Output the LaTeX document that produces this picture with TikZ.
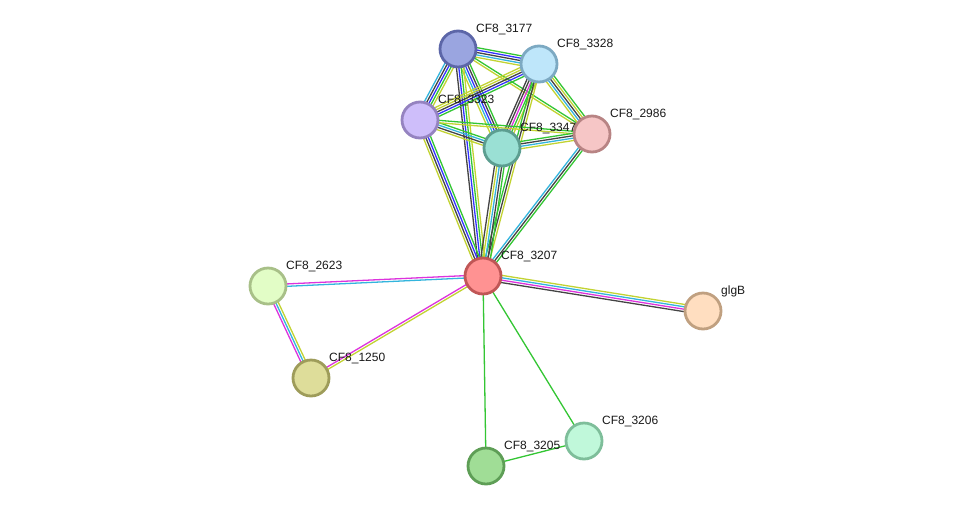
\documentclass[tikz,border=0pt]{standalone}
\usepackage{fontspec}
\setmainfont{Liberation Sans}
\usetikzlibrary{calc}
\definecolor{cgreen}{HTML}{33C633}
\definecolor{cblue}{HTML}{3333FF}
\definecolor{cblack}{HTML}{444444}
\definecolor{ccyan}{HTML}{33B5DD}
\definecolor{cyel}{HTML}{C2D332}
\definecolor{cmag}{HTML}{DD33DD}
\newcommand{\medge}[4]{%
  \foreach \cc [count=\ii] in {#4} {%
    \pgfmathsetmacro\off{(\ii-(#3+1)/2)*2.4}%
    \draw[edgeline, \cc] ($(#1.center)!\off pt!-90:(#2.center)$) -- ($(#2.center)!\off pt!90:(#1.center)$);%
  }}
\tikzset{
  edgeline/.style={line width=1.3pt},
  prot/.style={circle, minimum size=36, inner sep=0, line width=2.8},
  lab/.style={anchor=base west, inner sep=0, font=\fontsize{12}{14}\selectfont, text=black!90}
}
\begin{document}
\begin{tikzpicture}[x=1pt,y=-1pt]
\useasboundingbox (0,0) rectangle (976,512);
\fill[white] (0,0) rectangle (976,512);
% node coordinates
\coordinate (n3177) at (458,49);
\coordinate (n3328) at (539,64);
\coordinate (n3323) at (420,120);
\coordinate (n3347) at (502,148);
\coordinate (n2986) at (592,134);
\coordinate (n3207) at (483,276);
\coordinate (n2623) at (268,286);
\coordinate (n1250) at (311,378);
\coordinate (nglgB) at (703,311);
\coordinate (n3205) at (486,466);
\coordinate (n3206) at (584,441);
% edges
\medge{n3177}{n3328}{5}{cgreen,cblue,cblack,ccyan,cyel}
\medge{n3177}{n3323}{5}{cyel,cgreen,cblue,cblack,ccyan}
\medge{n3177}{n3347}{5}{cgreen,cblack,cblue,ccyan,cyel}
\medge{n3177}{n3207}{4}{cyel,cgreen,cblue,cblack}
\medge{n3177}{n2986}{2}{cgreen,cyel}
\medge{n3328}{n3323}{5}{cgreen,cblue,cblack,cyel,cyel}
\medge{n3328}{n3347}{5}{cyel,cgreen,cmag,cblack,cblack}
\medge{n3328}{n2986}{5}{cgreen,cyel,cblack,ccyan,cyel}
\medge{n3328}{n3207}{3}{cyel,cblack,cgreen}
\medge{n3323}{n3347}{4}{cgreen,ccyan,cblack,cyel}
\medge{n3323}{n2986}{2}{cgreen,cyel}
\medge{n3323}{n3207}{4}{cgreen,cblue,cblack,cyel}
\medge{n3347}{n2986}{4}{cgreen,cblack,ccyan,cyel}
\medge{n3347}{n3207}{5}{cgreen,cblack,ccyan,cyel,cblack}
\medge{n2986}{n3207}{3}{cgreen,cblack,ccyan}
\medge{n3207}{n2623}{2}{ccyan,cmag}
\medge{n3207}{n1250}{2}{cyel,cmag}
\medge{n2623}{n1250}{3}{cyel,ccyan,cmag}
\medge{n3207}{nglgB}{4}{cyel,ccyan,cmag,cblack}
\medge{n3207}{n3205}{1}{cgreen}
\medge{n3207}{n3206}{1}{cgreen}
\medge{n3205}{n3206}{1}{cgreen}
% nodes
\node[prot, fill={rgb,255:red,154;green,165;blue,224}, draw={rgb,255:red,92;green,102;blue,168}] (a3177) at (n3177) {};
\node[prot, fill={rgb,255:red,190;green,230;blue,250}, draw={rgb,255:red,124;green,169;blue,194}] (a3328) at (n3328) {};
\node[prot, fill={rgb,255:red,206;green,190;blue,250}, draw={rgb,255:red,149;green,131;blue,192}] (a3323) at (n3323) {};
\node[prot, fill={rgb,255:red,154;green,224;blue,212}, draw={rgb,255:red,92;green,158;blue,144}] (a3347) at (n3347) {};
\node[prot, fill={rgb,255:red,246;green,198;blue,198}, draw={rgb,255:red,184;green,132;blue,132}] (a2986) at (n2986) {};
\node[prot, fill={rgb,255:red,255;green,146;blue,146}, draw={rgb,255:red,192;green,86;blue,86}] (a3207) at (n3207) {};
\node[prot, fill={rgb,255:red,226;green,253;blue,198}, draw={rgb,255:red,168;green,192;blue,136}] (a2623) at (n2623) {};
\node[prot, fill={rgb,255:red,222;green,221;blue,154}, draw={rgb,255:red,158;green,156;blue,90}] (a1250) at (n1250) {};
\node[prot, fill={rgb,255:red,255;green,222;blue,192}, draw={rgb,255:red,192;green,160;blue,128}] (aglgB) at (nglgB) {};
\node[prot, fill={rgb,255:red,160;green,221;blue,150}, draw={rgb,255:red,94;green,158;blue,86}] (a3205) at (n3205) {};
\node[prot, fill={rgb,255:red,192;green,248;blue,218}, draw={rgb,255:red,126;green,190;blue,154}] (a3206) at (n3206) {};
% labels
\node[lab] (l3177) at ($(n3177)+(18,-16.5)$) {CF8\_3177};
\node[lab] (l3328) at ($(n3328)+(18,-16.5)$) {CF8\_3328};
\node[lab] (l3323) at ($(n3323)+(18,-16.5)$) {CF8\_3323};
\node[lab] (l3347) at ($(n3347)+(18,-16.5)$) {CF8\_3347};
\node[lab] (l2986) at ($(n2986)+(18,-16.5)$) {CF8\_2986};
\node[lab] (l3207) at ($(n3207)+(18,-16.5)$) {CF8\_3207};
\node[lab] (l2623) at ($(n2623)+(18,-16.5)$) {CF8\_2623};
\node[lab] (l1250) at ($(n1250)+(18,-16.5)$) {CF8\_1250};
\node[lab] (lglgB) at ($(nglgB)+(18,-16.5)$) {glgB};
\node[lab] (l3205) at ($(n3205)+(18,-16.5)$) {CF8\_3205};
\node[lab] (l3206) at ($(n3206)+(18,-16.5)$) {CF8\_3206};
\end{tikzpicture}
\end{document}
